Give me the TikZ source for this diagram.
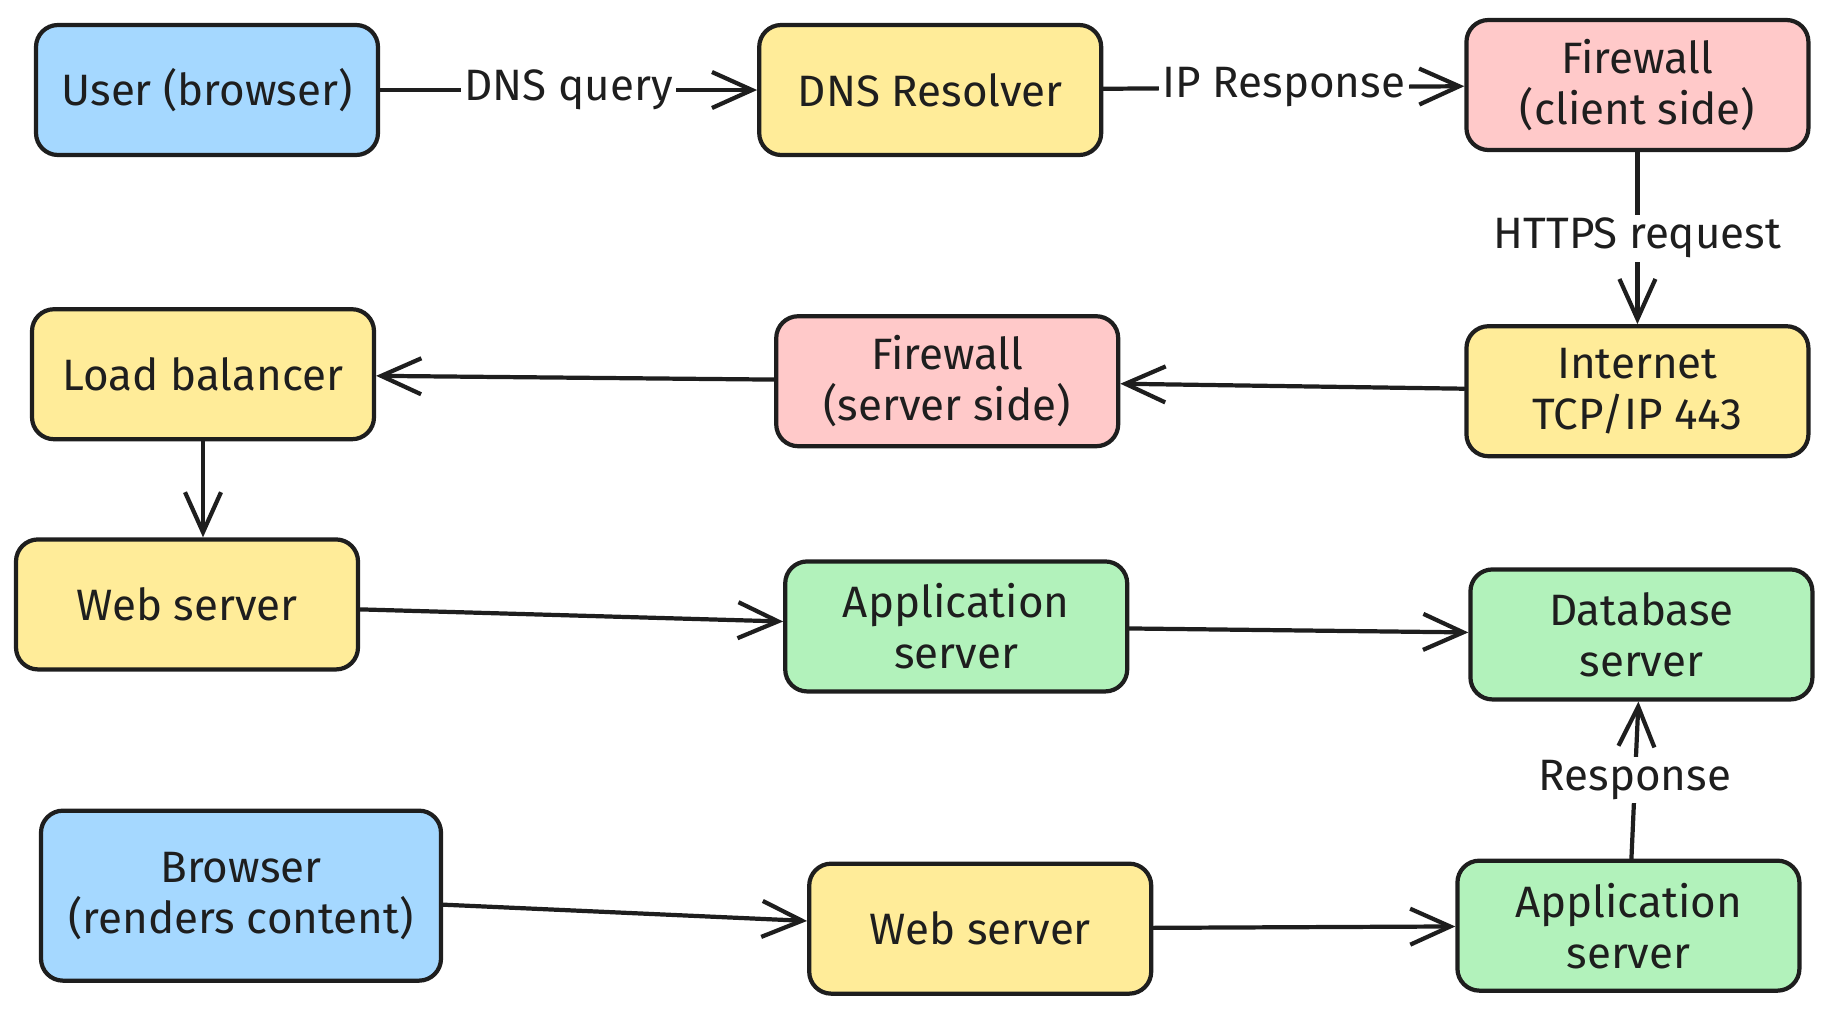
\documentclass[tikz,border=0pt]{standalone}
\usepackage{fontspec}
\setmainfont{Fira Sans}
\usepackage{tikz}
\usetikzlibrary{positioning,arrows.meta}
\definecolor{ink}{HTML}{1E1E1E}
\definecolor{cblue}{HTML}{A5D8FF}
\definecolor{cyellow}{HTML}{FFEC99}
\definecolor{cred}{HTML}{FFC9C9}
\definecolor{cgreen}{HTML}{B2F2BB}

\begin{document}
\begin{tikzpicture}[>={Straight Barb[length=4mm,width=3.6mm]}, color=ink,
  line width=1.2pt, line cap=round,
  font=\fontsize{12.5}{14.5}\selectfont,
  box/.style={draw,rounded corners=2.2mm,minimum width=3.42cm,minimum height=1.3cm,align=center},
  client/.style={box,fill=cblue},
  relay/.style={box,fill=cyellow},
  guard/.style={box,fill=cred},
  backend/.style={box,fill=cgreen},
  lbl/.style={fill=white,inner sep=1pt}]
  \useasboundingbox (0,0) rectangle (18.32,-10.10);
  % request path
  \node[client] (user) at (2.07,-0.90) {User (browser)};
  \node[relay,right=3.77cm of user] (dns) {DNS Resolver};
  \node[guard,right=3.61cm of dns,yshift=0.5mm] (fwc) {Firewall\\(client side)};
  \node[relay,below=1.72cm of fwc] (inet) {Internet\\TCP/IP 443};
  \node[guard,left=3.44cm of inet,yshift=1mm] (fws) {Firewall\\(server side)};
  \node[relay,left=3.98cm of fws,yshift=0.7mm] (lb) {Load balancer};
  \node[relay,below=0.96cm of lb,xshift=-1.6mm] (web) {Web server};
  \node[backend,right=4.23cm of web,yshift=-2.2mm] (app) {Application\\server};
  \node[backend,right=3.39cm of app,yshift=-0.8mm] (db) {Database\\server};
  % response path
  \node[client,minimum width=4cm,minimum height=1.7cm,below=1.37cm of web,xshift=5.4mm] (br) {Browser\\(renders content)};
  \node[relay,right=3.64cm of br,yshift=-3.3mm] (web2) {Web server};
  \node[backend,right=3.02cm of web2,yshift=0.3mm] (app2) {Application\\server};
  \draw[->] (user) -- node[lbl] (q1) {DNS query} (dns);
  \draw[->] (dns) -- node[lbl] (q2) {IP Response} (fwc);
  \draw[->] (fwc) -- node[lbl] (q3) {HTTPS request} (inet);
  \draw[->] (inet) -- (fws);
  \draw[->] (fws) -- (lb);
  \draw[->] (lb.south) -- (lb.south |- web.north);
  \draw[->] (web) -- (app);
  \draw[->] (app) -- (db);
  \draw[->] (br) -- (web2);
  \draw[->] (web2) -- (app2);
  \draw[->] (app2) -- node[lbl] (q4) {Response} (db);
\end{tikzpicture}
\end{document}
